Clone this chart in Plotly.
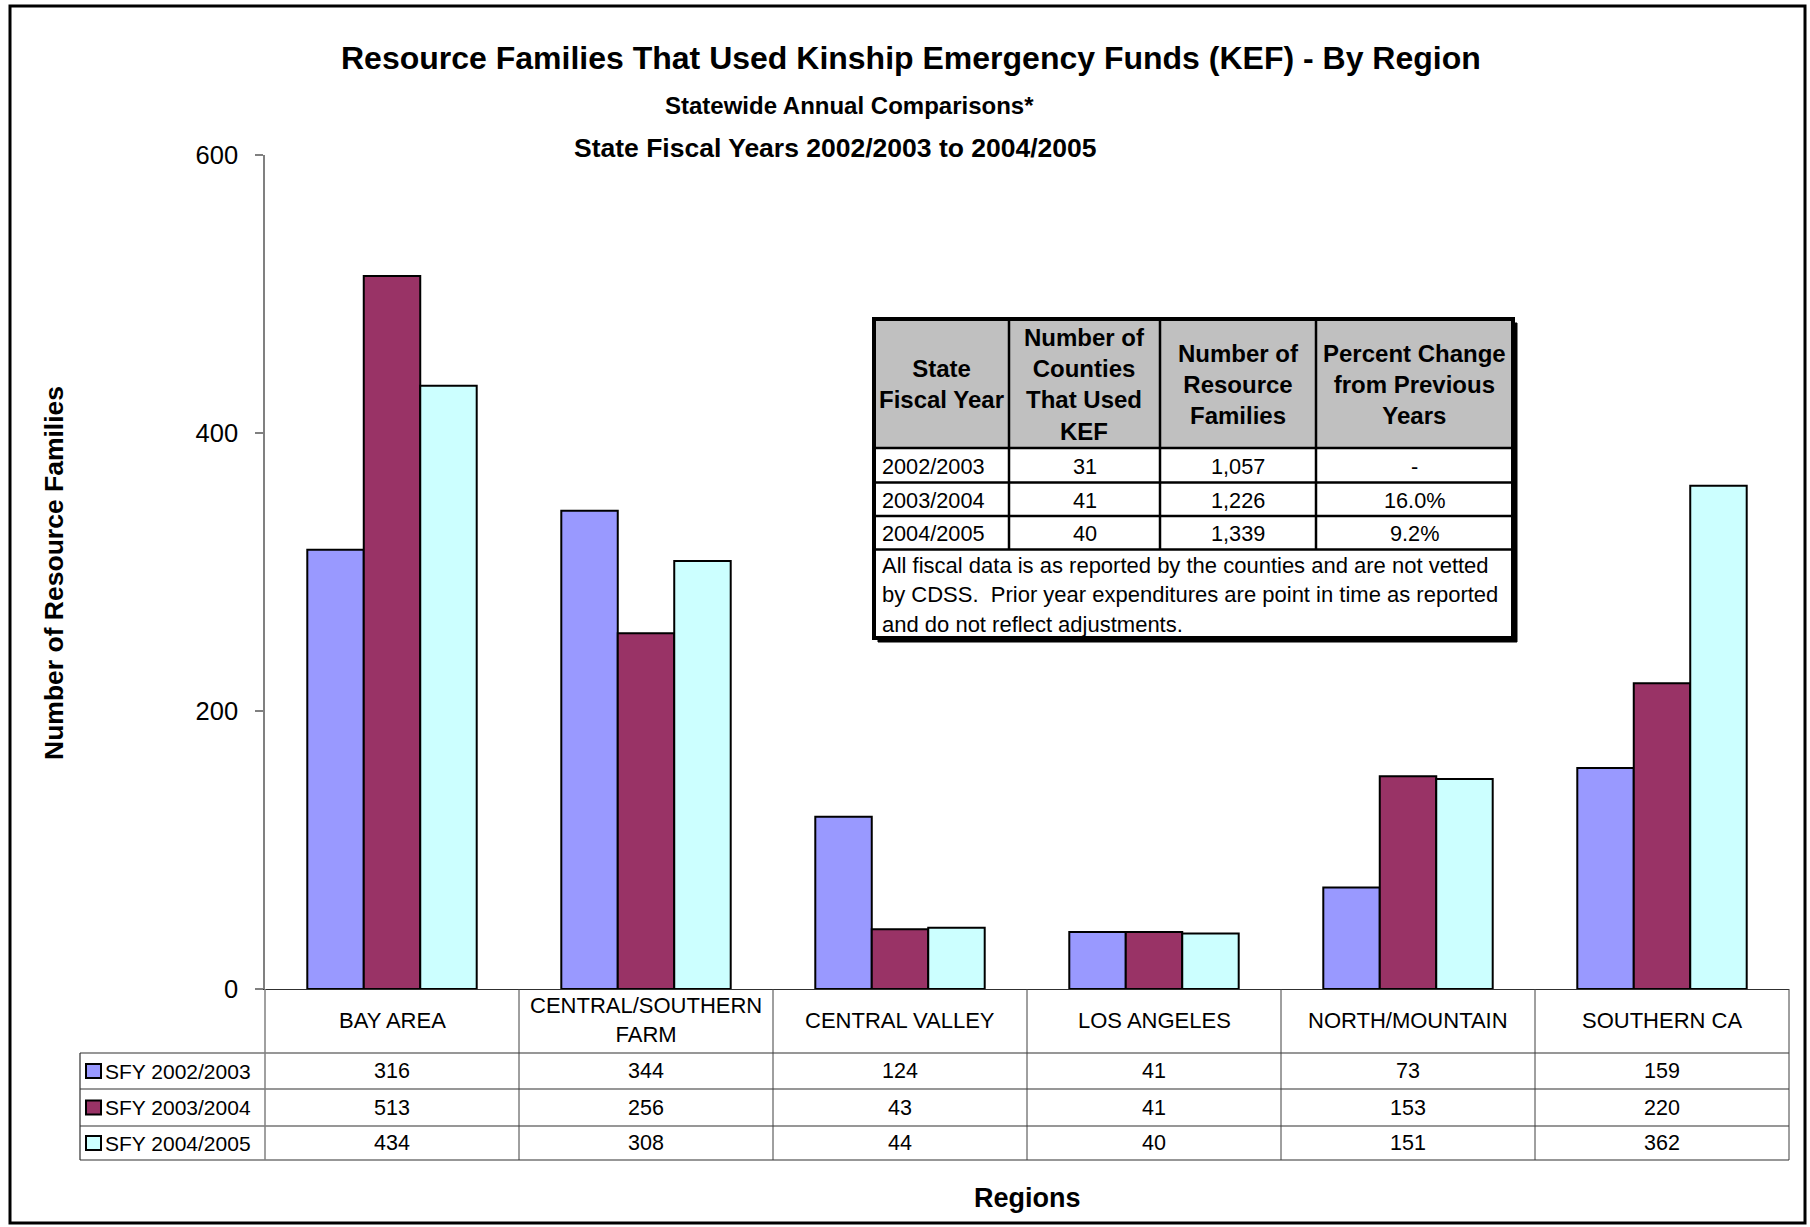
import plotly.graph_objects as go

# ---------------- data ----------------
regions = ["BAY AREA", "CENTRAL/SOUTHERN FARM", "CENTRAL VALLEY", "LOS ANGELES",
           "NORTH/MOUNTAIN", "SOUTHERN CA"]
region_labels = ["BAY AREA", "CENTRAL/SOUTHERN<br>FARM", "CENTRAL VALLEY", "LOS ANGELES",
                 "NORTH/MOUNTAIN", "SOUTHERN CA"]
series_names = ["SFY 2002/2003", "SFY 2003/2004", "SFY 2004/2005"]
sfy_2002_2003 = [316, 344, 124, 41, 73, 159]
sfy_2003_2004 = [513, 256, 43, 41, 153, 220]
sfy_2004_2005 = [434, 308, 44, 40, 151, 362]
series_colors = ["#9999FF", "#993366", "#CCFFFF"]
y_ticks = [0, 200, 400, 600]

inset_headers = ["State<br>Fiscal Year", "Number of<br>Counties<br>That Used<br>KEF",
                 "Number of<br>Resource<br>Families", "Percent Change<br>from Previous<br>Years"]
inset_years = ["2002/2003", "2003/2004", "2004/2005"]
inset_counties = ["31", "41", "40"]
inset_families = ["1,057", "1,226", "1,339"]
inset_pct = ["-", "16.0%", "9.2%"]
inset_note = ["All fiscal data is as reported by the counties and are not vetted",
              "by CDSS.  Prior year expenditures are point in time as reported",
              "and do not reflect adjustments."]

title = "Resource Families That Used Kinship Emergency Funds (KEF) - By Region"
subtitle1 = "Statewide Annual Comparisons*"
subtitle2 = "State Fiscal Years 2002/2003 to 2004/2005"
y_title = "Number of Resource Families"
x_title = "Regions"

# ---------------- layout helpers ----------------
W, H = 1810, 1227
FONT = "Liberation Sans, Arial, sans-serif"


def X(p):
    return p / W


def Y(p):
    return 1 - p / H


series_values = [sfy_2002_2003, sfy_2003_2004, sfy_2004_2005]

fig = go.Figure()
for name, vals, col in zip(series_names, series_values, series_colors):
    fig.add_trace(go.Bar(x=regions, y=vals, name=name,
                         marker=dict(color=col, line=dict(color="#000000", width=2))))

plot_l, plot_r, plot_t, plot_b = 265, 1789, 155, 989

shapes = []
annotations = []


def line(x0, y0, x1, y1, color="#404040", width=1):
    shapes.append(dict(type="line", xref="paper", yref="paper",
                       x0=X(x0), y0=Y(y0), x1=X(x1), y1=Y(y1),
                       line=dict(color=color, width=width), layer="above"))


def text(x, y, s, size, bold=False, xanchor="center", xref="paper", color="#000000"):
    annotations.append(dict(x=x if xref != "paper" else X(x), y=Y(y), xref=xref, yref="paper",
                            text=f"<b>{s}</b>" if bold else s, showarrow=False,
                            xanchor=xanchor, yanchor="middle",
                            font=dict(family=FONT, size=size, color=color), align="center"))


# outer border
shapes.append(dict(type="rect", xref="paper", yref="paper", x0=X(10), y0=Y(6), x1=X(1805), y1=Y(1223),
                   line=dict(color="#000000", width=3), layer="above"))

# titles
text(911, 58, title, 32, bold=True)
text(849, 106, subtitle1, 24, bold=True)
text(835, 148, subtitle2, 26.5, bold=True)
text(1027, 1198, x_title, 27, bold=True)
annotations.append(dict(x=X(54), y=Y(573), xref="paper", yref="paper", text=f"<b>{y_title}</b>",
                        showarrow=False, textangle=-90, xanchor="center", yanchor="middle",
                        font=dict(family=FONT, size=26.5, color="#000000")))

# ---------------- data table under the chart ----------------
row_lines = [1053, 1089, 1126, 1160]
row_centers = [1071, 1107.5, 1143]
cat_w = (plot_r - plot_l) / len(regions)
for yy in row_lines:
    line(80, yy, plot_r, yy, color="#303030", width=1.2)
line(80, 1053, 80, 1160, color="#303030", width=1.2)
line(plot_l, plot_b, plot_l, 1160, color="#808080", width=1.5)
for k in range(1, len(regions) + 1):
    xx = plot_l + cat_w * k
    line(xx, plot_b, xx, 1160, color="#404040", width=1)

for reg, lab in zip(regions, region_labels):
    text(reg, 1020, lab, 22, xref="x")

for r, (name, vals, col) in enumerate(zip(series_names, series_values, series_colors)):
    yc = row_centers[r]
    shapes.append(dict(type="rect", xref="paper", yref="paper", x0=X(86), x1=X(101),
                       y0=Y(yc - 7), y1=Y(yc + 7), fillcolor=col,
                       line=dict(color="#000000", width=2), layer="above"))
    text(103, yc, name, 21, xanchor="left")
    for reg, v in zip(regions, vals):
        text(reg, yc, str(v), 21.5, xref="x")

# ---------------- inset table ----------------
ix0, ix1, iy0, iy1 = 874, 1513, 319, 638
cols = [874, 1009, 1160, 1316, 1513]
hdr_b = 448
rows = [448, 482.5, 516, 549.5]
shapes.append(dict(type="rect", xref="paper", yref="paper", x0=X(ix0 + 4), x1=X(ix1 + 4),
                   y0=Y(iy0 + 4), y1=Y(iy1 + 4), fillcolor="#000000",
                   line=dict(color="#000000", width=1), layer="above"))
shapes.append(dict(type="rect", xref="paper", yref="paper", x0=X(ix0), x1=X(ix1),
                   y0=Y(iy0), y1=Y(iy1), fillcolor="#FFFFFF",
                   line=dict(color="#000000", width=1), layer="above"))
shapes.append(dict(type="rect", xref="paper", yref="paper", x0=X(ix0), x1=X(ix1),
                   y0=Y(iy0), y1=Y(hdr_b), fillcolor="#C0C0C0",
                   line=dict(width=0), layer="above"))
for yy in rows:
    line(ix0, yy, ix1, yy, color="#000000", width=2.5)
for xx in cols[1:-1]:
    line(xx, iy0, xx, rows[-1], color="#000000", width=2.5)
shapes.append(dict(type="rect", xref="paper", yref="paper", x0=X(ix0), x1=X(ix1),
                   y0=Y(iy0), y1=Y(iy1), line=dict(color="#000000", width=4), layer="above"))

for c, h in enumerate(inset_headers):
    text((cols[c] + cols[c + 1]) / 2, 384, h, 24, bold=True)
for r in range(3):
    yc = (rows[r] + rows[r + 1]) / 2 + 1
    text(880, yc, inset_years[r], 21.7, xanchor="left")
    text((cols[1] + cols[2]) / 2, yc, inset_counties[r], 21.7)
    text((cols[2] + cols[3]) / 2, yc, inset_families[r], 21.7)
    text((cols[3] + cols[4]) / 2, yc, inset_pct[r], 21.7)
for i, s in enumerate(inset_note):
    text(880, 565 + 29.5 * i, s, 22, xanchor="left")

fig.update_layout(
    width=W, height=H,
    margin=dict(l=0, r=0, t=0, b=0, pad=0),
    paper_bgcolor="#FFFFFF", plot_bgcolor="#FFFFFF",
    barmode="group", bargap=0.333, bargroupgap=0,
    showlegend=False,
    font=dict(family=FONT, color="#000000"),
    xaxis=dict(domain=[X(plot_l), X(plot_r)], range=[-0.5, 5.5], type="category",
               showticklabels=False, ticks="", showgrid=False, zeroline=False, automargin=False,
               showline=True, linecolor="#303030", linewidth=1.2),
    yaxis=dict(domain=[Y(plot_b), Y(plot_t)], range=[0, 600], tickvals=y_ticks,
               ticks="outside", ticklen=8, tickcolor="#808080", tickwidth=1.5,
               showline=True, linecolor="#808080", linewidth=1.5, showgrid=False,
               zeroline=False, automargin=False,
               tickfont=dict(family=FONT, size=25.5, color="#000000"),
               ticklabelstandoff=12),
    shapes=shapes,
    annotations=annotations,
)

fig.write_html("out.html", config={"displayModeBar": False},
               post_script="document.body.style.margin='0';document.body.style.overflow='hidden';")
